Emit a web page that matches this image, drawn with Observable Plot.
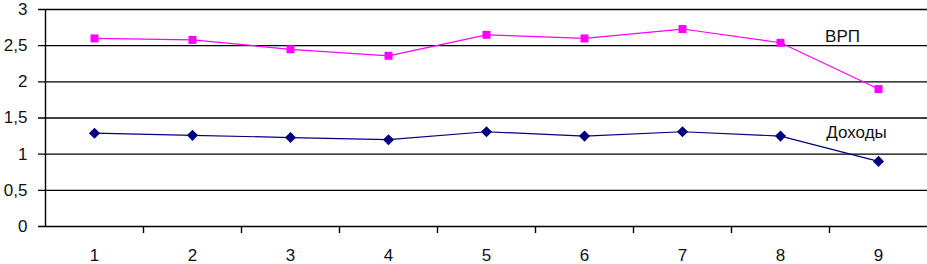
<!DOCTYPE html>
<html><head><meta charset="utf-8">
<script src="https://cdn.jsdelivr.net/npm/d3@7"></script>
<script src="https://cdn.jsdelivr.net/npm/@observablehq/plot@0.6"></script>
<style>body{margin:0;background:#fff}svg{display:block}</style>
</head><body><div id="chart"></div>
<script>
const categories = [1, 2, 3, 4, 5, 6, 7, 8, 9];
const vrp = [2.60, 2.58, 2.45, 2.36, 2.65, 2.60, 2.73, 2.54, 1.90];
const dohody = [1.29, 1.26, 1.23, 1.20, 1.31, 1.25, 1.31, 1.25, 0.90];
const yTicks = [0, 0.5, 1, 1.5, 2, 2.5, 3];
const seriesNames = ["ВРП", "Доходы"];

const vrpData = categories.map((c, i) => ({x: c, y: vrp[i]}));
const dohData = categories.map((c, i) => ({x: c, y: dohody[i]}));
const boundaries = categories.slice(0, -1).map(c => c + 0.5);
const fmt = d => String(d).replace(".", ",");

const chart = Plot.plot({
  width: 927, height: 264,
  marginLeft: 45, marginRight: 0, marginTop: 9, marginBottom: 38,
  style: {fontFamily: "Liberation Sans, Arial, sans-serif", fontSize: "17px", color: "#111", background: "#fff"},
  x: {type: "linear", domain: [0.5, 9.5], axis: null},
  y: {type: "linear", domain: [0, 3], axis: null},
  marks: [
    Plot.ruleY(yTicks, {x1: 0.5, x2: 9.5, insetLeft: -7, stroke: "#000", strokeWidth: 1.4, strokeOpacity: 1}),
    Plot.ruleX([0.5], {stroke: "#000", strokeWidth: 1.4}),
    Plot.axisX(boundaries, {tickSize: 7, tickFormat: () => "", stroke: "#000", strokeWidth: 1.4, strokeOpacity: 1, label: null}),
    Plot.axisX(categories, {tickSize: 0, tickPadding: 22, tickFormat: d => d, fontSize: 17, fill: "#111", label: null}),
    Plot.text(yTicks, {y: d => d, frameAnchor: "left", dx: -18, textAnchor: "end", text: fmt, fontSize: 17, fill: "#111"}),
    Plot.line(vrpData, {x: "x", y: "y", stroke: "#ff00ff", strokeWidth: 1.2}),
    Plot.line(dohData, {x: "x", y: "y", stroke: "#000080", strokeWidth: 1.2}),
    Plot.dot(vrpData, {x: "x", y: "y", symbol: "square", r: 4.5, fill: "#ff00ff", stroke: "none"}),
    Plot.dot(dohData, {x: "x", y: "y", symbol: "diamond2", r: 5, fill: "#000080", stroke: "none"}),
    Plot.text([seriesNames[0]], {x: 8.633, y: 2.627, text: d => d, fontSize: 17, fill: "#111", textAnchor: "middle"}),
    Plot.text([seriesNames[1]], {x: 8.776, y: 1.30, text: d => d, fontSize: 17, fill: "#111", textAnchor: "middle"})
  ]
});
document.getElementById("chart").append(chart);
</script>
</body></html>
